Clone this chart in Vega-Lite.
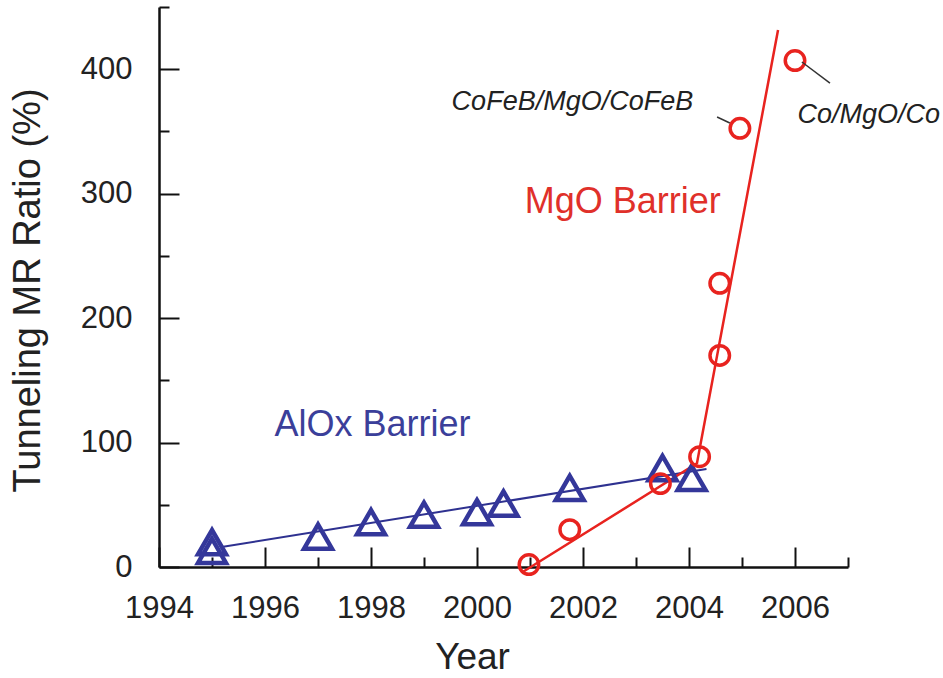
{
  "$schema": "https://vega.github.io/schema/vega-lite/v6.json",
  "width": 689,
  "height": 560,
  "autosize": {"type": "none"},
  "padding": {"left": 159, "top": 7, "right": 95, "bottom": 111},
  "background": "white",
  "config": {
    "view": {"stroke": null},
    "font": "Liberation Sans",
    "axis": {
      "domainColor": "#111",
      "domainWidth": 2.5,
      "tickColor": "#111",
      "tickWidth": 2,
      "grid": false,
      "labelFont": "Liberation Sans",
      "labelColor": "#222",
      "labelFontSize": 31,
      "titleFont": "Liberation Sans",
      "titleFontWeight": "normal",
      "titleColor": "#222",
      "titleFontSize": 37
    }
  },
  "encoding": {
    "x": {
      "field": "year",
      "type": "quantitative",
      "scale": {"domain": [1994, 2007], "nice": false, "zero": false},
      "axis": {
        "title": "Year",
        "values": [1994, 1995, 1996, 1997, 1998, 1999, 2000, 2001, 2002, 2003, 2004, 2005, 2006, 2007],
        "format": "d",
        "labelExpr": "datum.value % 2 === 0 ? datum.label : ''",
        "tickSize": {"condition": {"test": "datum.value % 2 === 0", "value": -20}, "value": -10},
        "labelPadding": 46,
        "labelBaseline": "top",
        "labelFlush": false,
        "labelOverlap": false,
        "titleX": 313,
        "titleY": 101,
        "titleAlign": "center",
        "titleBaseline": "alphabetic"
      }
    },
    "y": {
      "field": "mr",
      "type": "quantitative",
      "scale": {"domain": [0, 450], "nice": false},
      "axis": {
        "title": "Tunneling MR Ratio (%)",
        "titleFontSize": 38,
        "values": [0, 50, 100, 150, 200, 250, 300, 350, 400, 450],
        "labelExpr": "datum.value % 100 === 0 ? datum.label : ''",
        "tickSize": {"condition": {"test": "datum.value % 100 === 0", "value": -20}, "value": -10},
        "labelPadding": 47,
        "labelBaseline": "middle",
        "labelFlush": false,
        "labelOverlap": false,
        "titleX": -131,
        "titleY": 283,
        "titleAngle": -90,
        "titleAlign": "center",
        "titleBaseline": "middle"
      }
    }
  },
  "layer": [
    {
      "data": {"values": [
        {"year": 1995.21, "mr": 16.3},
        {"year": 2004.33, "mr": 78.8}
      ]},
      "mark": {"type": "line", "color": "#2e3190", "strokeWidth": 2}
    },
    {
      "data": {"values": [
        {"year": 2000.87, "mr": -3.8},
        {"year": 2004.15, "mr": 83.3},
        {"year": 2005.68, "mr": 431.6}
      ]},
      "mark": {"type": "line", "color": "#e8231f", "strokeWidth": 2.5, "clip": false}
    },
    {
      "data": {"values": [
        {"year": 1995, "mr": 20},
        {"year": 1995, "mr": 13},
        {"year": 1997, "mr": 24.4},
        {"year": 1998, "mr": 36},
        {"year": 1999, "mr": 42},
        {"year": 2000, "mr": 44},
        {"year": 2000.5, "mr": 51},
        {"year": 2001.75, "mr": 63.5},
        {"year": 2003.5, "mr": 79.5},
        {"year": 2004.05, "mr": 71.5}
      ]},
      "mark": {"type": "point", "shape": "triangle-up", "filled": false, "color": "#34379a", "strokeWidth": 4.5, "size": 780, "opacity": 1}
    },
    {
      "data": {"values": [
        {"year": 2000.98, "mr": 2},
        {"year": 2001.75, "mr": 30},
        {"year": 2003.46, "mr": 67},
        {"year": 2004.2, "mr": 88.6},
        {"year": 2004.58, "mr": 170},
        {"year": 2004.58, "mr": 228},
        {"year": 2004.96, "mr": 352.5},
        {"year": 2006.0, "mr": 407}
      ]},
      "mark": {"type": "point", "shape": "circle", "filled": false, "color": "#e8231f", "strokeWidth": 3.5, "size": 380, "opacity": 1, "clip": false}
    },
    {
      "data": {"values": [
        {"year": 2004.53, "mr": 361.6, "year2": 2004.77, "mr2": 356.8},
        {"year": 2006.13, "mr": 405.8, "year2": 2006.66, "mr2": 388.9}
      ]},
      "mark": {"type": "rule", "color": "#333", "strokeWidth": 1.5},
      "encoding": {
        "x2": {"field": "year2"},
        "y2": {"field": "mr2"}
      }
    },
    {
      "data": {"values": [
        {"year": 1998.03, "mr": 114, "label": "AlOx Barrier"}
      ]},
      "mark": {"type": "text", "color": "#3b3f9a", "fontSize": 36, "align": "center", "baseline": "middle"},
      "encoding": {"text": {"field": "label"}}
    },
    {
      "data": {"values": [
        {"year": 2002.75, "mr": 293, "label": "MgO Barrier"}
      ]},
      "mark": {"type": "text", "color": "#e0302a", "fontSize": 36, "align": "center", "baseline": "middle"},
      "encoding": {"text": {"field": "label"}}
    },
    {
      "data": {"values": [
        {"year": 2001.8, "mr": 374, "label": "CoFeB/MgO/CoFeB"},
        {"year": 2007.39, "mr": 363, "label": "Co/MgO/Co"}
      ]},
      "mark": {"type": "text", "color": "#222", "fontSize": 27, "fontStyle": "italic", "align": "center", "baseline": "middle", "clip": false},
      "encoding": {"text": {"field": "label"}}
    }
  ]
}
